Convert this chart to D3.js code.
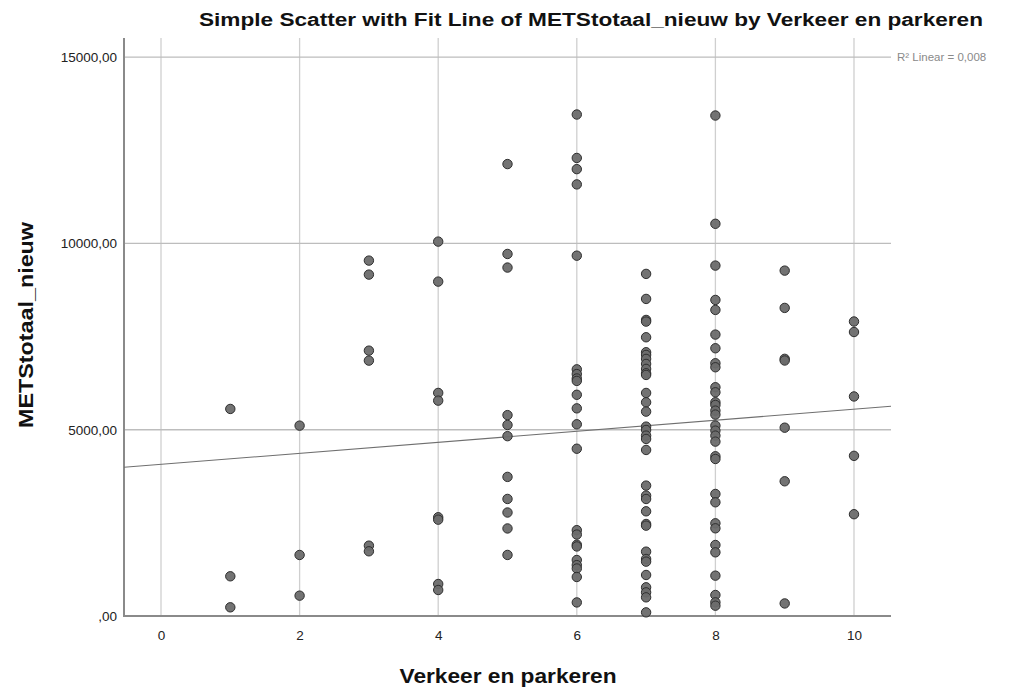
<!DOCTYPE html>
<html>
<head>
<meta charset="utf-8">
<script src="https://cdn.jsdelivr.net/npm/d3@7"></script>
<style>
  html, body { margin: 0; padding: 0; background: #fff; }
  text { font-family: "Liberation Sans", Arial, sans-serif; }
</style>
</head>
<body>
<svg id="chart" width="1021" height="693"></svg>
<script>
// ---- data ----
const xValues = [1,2,3,4,5,6,7,8,9,10];
const yByX = {
  1: [5558, 1066, 233],
  2: [5110, 1638, 546],
  3: [9540, 9164, 7123, 6855, 1888, 1737],
  4: [10050, 8976, 5988, 5781, 2650, 2586, 859, 698],
  5: [12131, 9718, 9353, 5392, 5128, 4827, 3734, 3142, 2778, 2350, 1639],
  6: [13461, 12295, 11995, 11585, 9672, 6621, 6494, 6375, 6311, 5938, 5574, 5146, 4490, 2304, 2186, 1913, 1867, 1503, 1366, 1275, 1047, 364],
  7: [9183, 8511, 7947, 7903, 7482, 7080, 7008, 6901, 6766, 6632, 6516, 6471, 5987, 5737, 5486, 5083, 4994, 4842, 4752, 4457, 3500, 3231, 3141, 2810, 2470, 2425, 1727, 1530, 1459, 1101, 770, 635, 501, 98],
  8: [13434, 10528, 9406, 8484, 8216, 7554, 7187, 6784, 6677, 6140, 6005, 5737, 5665, 5513, 5406, 5110, 4976, 4842, 4681, 4287, 4215, 3276, 3052, 2488, 2354, 1906, 1709, 1083, 564, 367, 277],
  9: [9271, 8270, 6903, 6858, 5055, 3616, 337],
  10: [7905, 7623, 5893, 4299, 2732]
};
const xTicks = [0, 2, 4, 6, 8, 10];
const yTicks = [0, 5000, 10000, 15000];
const yTickLabels = [",00", "5000,00", "10000,00", "15000,00"];
const fitIntercept = 4070;
const fitSlope = 148;
const r2Label = "R² Linear = 0,008";
const title = "Simple Scatter with Fit Line of METStotaal_nieuw by Verkeer en parkeren";
const xTitle = "Verkeer en parkeren";
const yTitle = "METStotaal_nieuw";

const points = [];
xValues.forEach(x => yByX[x].forEach(y => points.push({x, y})));

// ---- layout ----
const svg = d3.select("#chart");
const plot = {left: 124, right: 891, top: 38, bottom: 616};
const x = d3.scaleLinear().domain([-0.534, 10.534]).range([plot.left, plot.right]);
const y = d3.scaleLinear().domain([0, 15515]).range([plot.bottom, plot.top]);

// vertical gridlines
svg.append("g").selectAll("line").data(xTicks).join("line")
  .attr("x1", d => x(d)).attr("x2", d => x(d))
  .attr("y1", plot.top).attr("y2", plot.bottom)
  .attr("stroke", "#cfcfcf").attr("stroke-width", 1.3);

// horizontal gridlines
svg.append("g").selectAll("line").data(yTicks.filter(d => d > 0)).join("line")
  .attr("x1", plot.left).attr("x2", plot.right)
  .attr("y1", d => y(d)).attr("y2", d => y(d))
  .attr("stroke", "#bdbdbd").attr("stroke-width", 1.3);

// axes
const xAxis = d3.axisBottom(x).tickValues(xTicks).tickSize(0).tickPadding(14).tickFormat(d3.format("d"));
const gx = svg.append("g").attr("transform", `translate(0,${plot.bottom})`).call(xAxis);
gx.select(".domain").remove();
gx.selectAll("text").attr("font-size", 13.5).attr("fill", "#222");

const yAxis = d3.axisLeft(y).tickValues(yTicks).tickSize(0).tickPadding(7)
  .tickFormat((d, i) => yTickLabels[i]);
const gy = svg.append("g").attr("transform", `translate(${plot.left},0)`).call(yAxis);
gy.select(".domain").remove();
gy.selectAll("text").attr("font-size", 13.5).attr("fill", "#222");

svg.append("line").attr("x1", plot.left).attr("x2", plot.left)
  .attr("y1", plot.top).attr("y2", plot.bottom + 1)
  .attr("stroke", "#8a8a8a").attr("stroke-width", 2);
svg.append("line").attr("x1", plot.left).attr("x2", plot.right)
  .attr("y1", plot.bottom).attr("y2", plot.bottom)
  .attr("stroke", "#8a8a8a").attr("stroke-width", 2);

// fit line
const x0 = x.domain()[0], x1 = x.domain()[1];
svg.append("line")
  .attr("x1", x(x0)).attr("y1", y(fitIntercept + fitSlope * x0))
  .attr("x2", x(x1)).attr("y2", y(fitIntercept + fitSlope * x1))
  .attr("stroke", "#6f6f6f").attr("stroke-width", 1.1);

// points
svg.append("g").selectAll("circle").data(points).join("circle")
  .attr("cx", d => x(d.x)).attr("cy", d => y(d.y)).attr("r", 4.7)
  .attr("fill", "#6b6b6b").attr("fill-opacity", 0.95)
  .attr("stroke", "#2e2e2e").attr("stroke-width", 1);

// R2 label
svg.append("text").attr("x", 897).attr("y", y(15000)).attr("dy", "0.35em")
  .attr("font-size", 11.5).attr("fill", "#8a8a8a").text(r2Label);

// titles
svg.append("text").attr("x", 591).attr("y", 26).attr("text-anchor", "middle")
  .attr("font-size", 18).attr("font-weight", "bold").attr("fill", "#111")
  .attr("textLength", 784).attr("lengthAdjust", "spacingAndGlyphs").text(title);
svg.append("text").attr("x", 508).attr("y", 683).attr("text-anchor", "middle")
  .attr("font-size", 21).attr("font-weight", "bold").attr("fill", "#111")
  .attr("textLength", 217).attr("lengthAdjust", "spacingAndGlyphs").text(xTitle);
svg.append("text").attr("transform", "translate(33,325) rotate(-90)").attr("text-anchor", "middle")
  .attr("font-size", 21).attr("font-weight", "bold").attr("fill", "#111")
  .attr("textLength", 206).attr("lengthAdjust", "spacingAndGlyphs").text(yTitle);
</script>
</body>
</html>
